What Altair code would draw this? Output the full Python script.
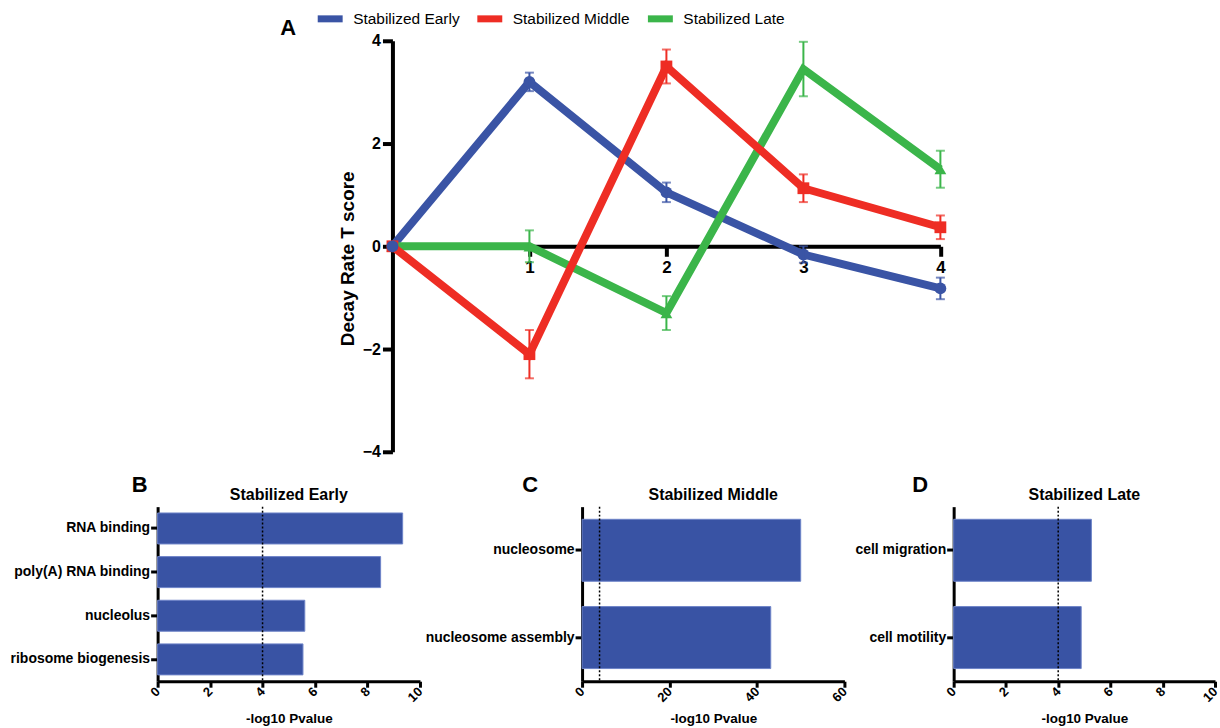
import altair as alt
import pandas as pd

SANS = "Liberation Sans, Arial, Helvetica, sans-serif"

# ---------------- data ----------------
series_names = ["Stabilized Early", "Stabilized Middle", "Stabilized Late"]
series_colors = ["#3a54a5", "#ee2d24", "#3bb54a"]
series_shapes = ["circle", "square", "triangle-up"]
series_zorder = [3, 2, 1]
timepoints = [0, 1, 2, 3, 4]
early_mean = [0, 3.2, 1.05, -0.16, -0.82]
early_err = [0, 0.18, 0.19, 0.16, 0.21]
middle_mean = [0, -2.1, 3.5, 1.13, 0.37]
middle_err = [0, 0.47, 0.33, 0.27, 0.23]
late_mean = [0, 0.0, -1.3, 3.45, 1.5]
late_err = [0, 0.31, 0.33, 0.53, 0.36]

b_terms = ["RNA binding", "poly(A) RNA binding", "nucleolus", "ribosome biogenesis"]
b_values = [9.34, 8.5, 5.61, 5.54]
c_terms = ["nucleosome", "nucleosome assembly"]
c_values = [50.0, 43.15]
d_terms = ["cell migration", "cell motility"]
d_values = [5.27, 4.88]
threshold = 4

# ---------------- top line chart ----------------
rows = []
for idx, means, errs in [
    (0, early_mean, early_err),
    (2, late_mean, late_err),
    (1, middle_mean, middle_err),
]:
    name = series_names[idx]
    for t, m, e in zip(timepoints, means, errs):
        rows.append({"series": name, "grp": name, "zo": series_zorder[idx],
                     "t": t, "y": m, "lo": m - e, "hi": m + e})
df = pd.DataFrame(rows)

TOP_W = 785
TOP_H = 412
X_START = 235.4
X_END = 784.7

x_scale = alt.Scale(domain=[0, 4], range=[X_START, X_END], nice=False, zero=False)
y_scale = alt.Scale(domain=[-4, 4], nice=False)
stroke_scale = alt.Scale(domain=series_names, range=series_colors)
# marker / error-bar scales listed in another order so they stay separate from the line legend
perm = [2, 0, 1]
grp_domain = [series_names[i] for i in perm]
fill_scale = alt.Scale(domain=grp_domain, range=[series_colors[i] for i in perm])
shape_scale = alt.Scale(domain=grp_domain, range=[series_shapes[i] for i in perm])

x_axis = alt.Axis(values=[1, 2, 3, 4], offset=-TOP_H / 2, title=None, grid=False,
                  domainColor="black", domainWidth=4, tickColor="black", tickWidth=4,
                  tickSize=10, labelFont=SANS, labelFontSize=17, labelFontWeight="bold",
                  labelColor="black", labelPadding=3, labelFlush=False, format="d")
y_axis = alt.Axis(values=[-4, -2, 0, 2, 4], offset=-X_START, title="Decay Rate T score",
                  grid=False, domainColor="black", domainWidth=4, tickColor="black",
                  tickWidth=4, tickSize=10, labelFont=SANS, labelFontSize=16,
                  labelFontWeight="bold", labelColor="black", labelPadding=2,
                  labelFlush=False, titleFont=SANS, titleFontSize=19,
                  titleFontWeight="bold", titleColor="black", titlePadding=5,
                  titleY=218, format="d")
legend = alt.Legend(title=None, orient="none", legendX=157, legendY=-38,
                    direction="horizontal", symbolType="stroke", symbolSize=625,
                    symbolStrokeWidth=7, labelFont=SANS, labelFontSize=15.5,
                    labelFontWeight="normal", labelColor="black", labelOffset=7,
                    columnPadding=3, gridAlign="none", padding=0, labelLimit=400)

X_ENC = alt.X("t:Q", scale=x_scale, axis=x_axis)

base = alt.Chart(df)
lines = base.mark_line(strokeWidth=8).encode(
    x=X_ENC,
    y=alt.Y("y:Q", scale=y_scale, axis=y_axis),
    stroke=alt.Stroke("series:N", scale=stroke_scale, legend=legend),
)
points = base.mark_point(filled=True, size=140, opacity=1).encode(
    x=X_ENC,
    y=alt.Y("y:Q", scale=y_scale, axis=y_axis),
    color=alt.Color("grp:N", scale=fill_scale, legend=None),
    shape=alt.Shape("grp:N", scale=shape_scale, legend=None),
    order=alt.Order("zo:Q"),
)
err = base.transform_filter("datum.t > 0")
rules = err.mark_rule(strokeWidth=2).encode(
    x=X_ENC,
    y=alt.Y("lo:Q", scale=y_scale, axis=y_axis),
    y2="hi:Q",
    color=alt.Color("grp:N", scale=fill_scale, legend=None),
)
cap_lo = err.mark_tick(orient="horizontal", size=9, thickness=2).encode(
    x=X_ENC,
    y=alt.Y("lo:Q", scale=y_scale, axis=y_axis),
    color=alt.Color("grp:N", scale=fill_scale, legend=None),
)
cap_hi = err.mark_tick(orient="horizontal", size=9, thickness=2).encode(
    x=X_ENC,
    y=alt.Y("hi:Q", scale=y_scale, axis=y_axis),
    color=alt.Color("grp:N", scale=fill_scale, legend=None),
)

ann = pd.DataFrame({"k": [0]})
letter_a = alt.Chart(ann).mark_text(
    text="A", font=SANS, fontSize=22, fontWeight="bold", color="black",
    align="center", baseline="alphabetic",
).encode(x=alt.value(131), y=alt.value(-6))
anchor = alt.Chart(ann).mark_text(
    text=".", fontSize=2, opacity=0, align="left", baseline="top",
).encode(x=alt.value(-158), y=alt.value(-40))

top = alt.layer(lines, points, rules, cap_lo, cap_hi, letter_a, anchor).properties(
    width=TOP_W, height=TOP_H
)

# ---------------- bar panels ----------------
def panel(terms, values, xmax, ticks, title, letter, letter_x, plot_w, total_w):
    d = pd.DataFrame({"term": terms, "value": values})
    xs = alt.Scale(domain=[0, xmax], range=[0, plot_w], nice=False, zero=True)
    xax = alt.Axis(
        values=ticks, title="-log10 Pvalue", grid=False, domainColor="black",
        domainWidth=3, tickColor="black", tickWidth=3, tickSize=6, labelAngle=315,
        labelAlign="right", labelBaseline="middle",
        labelFont=SANS, labelFontSize=13, labelFontWeight="bold", labelColor="black",
        labelPadding=2, labelFlush=False, titleFont=SANS, titleFontSize=13.5,
        titleFontWeight="bold", titleColor="black", titlePadding=7, format="d")
    bars = alt.Chart(d).mark_bar(color="#3953a4", stroke="#6d84c8", strokeWidth=1).encode(
        x=alt.X("value:Q", scale=xs, axis=xax),
        y=alt.Y("term:N", sort=terms,
                scale=alt.Scale(paddingInner=0.29, paddingOuter=0.145),
                axis=alt.Axis(title=None, grid=False, domainColor="black", domainWidth=3,
                              tickColor="black", tickWidth=3, tickSize=7,
                              labelFont=SANS, labelFontSize=14, labelFontWeight="bold",
                              labelColor="black", labelPadding=1, labelLimit=400)),
    )
    thr = alt.Chart(pd.DataFrame({"value": [threshold]})).mark_rule(
        color="black", strokeDash=[2, 2], strokeWidth=1.5
    ).encode(x=alt.X("value:Q", scale=xs, axis=xax))
    ttl = alt.Chart(ann).mark_text(
        text=title, font=SANS, fontSize=16, fontWeight="bold", color="black",
        align="center", baseline="alphabetic",
    ).encode(x=alt.value(plot_w / 2), y=alt.value(-6.5))
    let = alt.Chart(ann).mark_text(
        text=letter, font=SANS, fontSize=22, fontWeight="bold", color="black",
        align="center", baseline="alphabetic",
    ).encode(x=alt.value(letter_x), y=alt.value(-15))
    return alt.layer(bars, thr, ttl, let).properties(width=total_w, height=175)


p_b = panel(b_terms, b_values, 10, [0, 2, 4, 6, 8, 10], "Stabilized Early", "B", -18, 263, 316)
p_c = panel(c_terms, c_values, 60, [0, 20, 40, 60], "Stabilized Middle", "C", -52, 263, 263)
p_d = panel(d_terms, d_values, 10, [0, 2, 4, 6, 8, 10], "Stabilized Late", "D", -33.5, 262, 262)

bottom = alt.hconcat(p_b, p_c, p_d, spacing=109.5, bounds="flush")

chart = (
    alt.vconcat(top, bottom, spacing=55, bounds="flush")
    .properties(padding=0)
    .configure_view(strokeWidth=0)
    .configure_axis(grid=False)
)
chart.save("out.html", embed_options={"renderer": "svg", "actions": False})
